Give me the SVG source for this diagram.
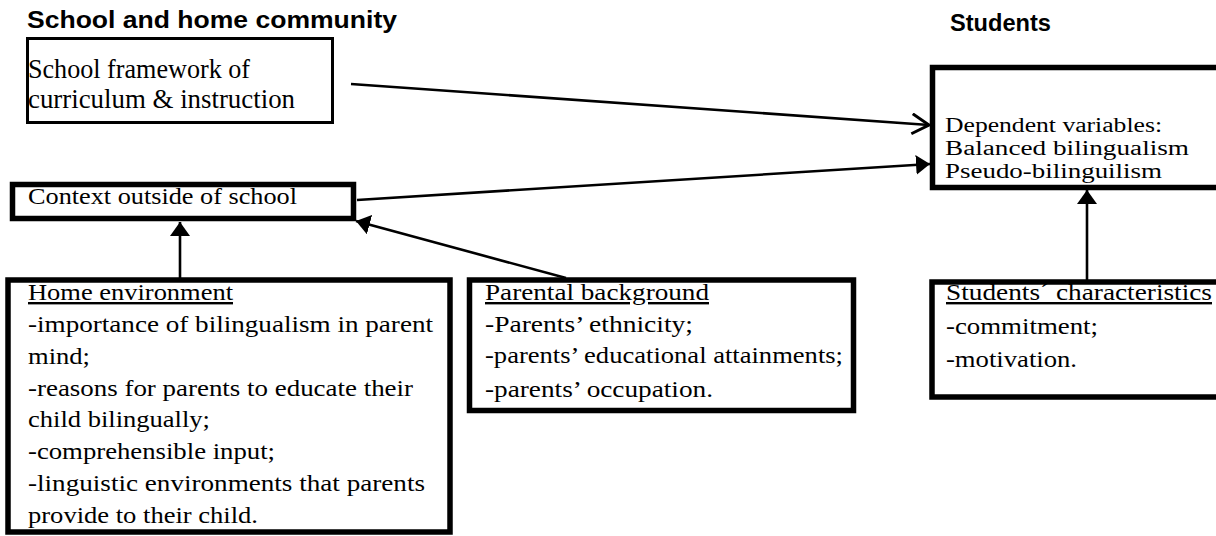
<svg xmlns="http://www.w3.org/2000/svg" width="1216" height="536" viewBox="0 0 1216 536">
<style>
.title{font-family:"Liberation Sans",Arial,sans-serif;font-weight:bold;font-size:23px;fill:#000}
.t{font-family:"Liberation Serif","Times New Roman",serif;font-size:24px;fill:#000}
.t3{font-family:"Liberation Serif","Times New Roman",serif;font-size:20.5px;fill:#000}
.t1{font-family:"Liberation Serif","Times New Roman",serif;font-size:26.5px;fill:#000}
.u{text-decoration:underline}
.box{fill:#fff;stroke:#000;stroke-width:5.5}
.thin{fill:#fff;stroke:#000;stroke-width:3}
.conn{fill:none;stroke:#000;stroke-width:2.6}
</style>
<defs>
<marker id="tri" markerUnits="userSpaceOnUse" markerWidth="16" markerHeight="20" refX="14" refY="10" orient="auto"><path d="M0,0 L14,10 L0,20 z" fill="#000"/></marker>
<marker id="open" markerUnits="userSpaceOnUse" markerWidth="22" markerHeight="26" refX="18" refY="11" orient="auto"><path d="M1,1 L18,11 L1,21" fill="none" stroke="#000" stroke-width="3"/></marker>
</defs>
<rect width="1216" height="536" fill="#fff"/>
<text class="title" x="27" y="28" textLength="370" lengthAdjust="spacingAndGlyphs">School and home community</text>
<text class="title" x="950" y="31" textLength="101" lengthAdjust="spacingAndGlyphs">Students</text>

<g id="school-framework">
<rect class="thin" x="27.5" y="38.5" width="305" height="84"/>
<text class="t1" x="28" y="78" textLength="222" lengthAdjust="spacingAndGlyphs">School framework of</text>
<text class="t1" x="28" y="108" textLength="267" lengthAdjust="spacingAndGlyphs">curriculum &amp; instruction</text>
</g>

<g id="context-outside">
<rect class="box" x="12.5" y="184.5" width="341" height="34"/>
<text class="t" x="28" y="204" textLength="269" lengthAdjust="spacingAndGlyphs">Context outside of school</text>
</g>

<g id="dependent-variables">
<rect class="box" x="932.5" y="67.5" width="300" height="120"/>
<text class="t3" x="945" y="132" textLength="217" lengthAdjust="spacingAndGlyphs">Dependent variables:</text>
<text class="t3" x="945" y="155" textLength="244" lengthAdjust="spacingAndGlyphs">Balanced bilingualism</text>
<text class="t3" x="945" y="178" textLength="217" lengthAdjust="spacingAndGlyphs">Pseudo-bilinguilism</text>
</g>

<g id="home-environment">
<rect class="box" x="8" y="280" width="442" height="252"/>
<text class="t u" x="28" y="300" textLength="205" lengthAdjust="spacingAndGlyphs">Home environment</text>
<text class="t" x="28" y="332" textLength="405" lengthAdjust="spacingAndGlyphs">-importance of bilingualism in parent</text>
<text class="t" x="28" y="364" textLength="62" lengthAdjust="spacingAndGlyphs">mind;</text>
<text class="t" x="28" y="396" textLength="385" lengthAdjust="spacingAndGlyphs">-reasons for parents to educate their</text>
<text class="t" x="28" y="427" textLength="182" lengthAdjust="spacingAndGlyphs">child bilingually;</text>
<text class="t" x="28" y="459" textLength="247" lengthAdjust="spacingAndGlyphs">-comprehensible input;</text>
<text class="t" x="28" y="491" textLength="397" lengthAdjust="spacingAndGlyphs">-linguistic environments that parents</text>
<text class="t" x="28" y="523" textLength="230" lengthAdjust="spacingAndGlyphs">provide to their child.</text>
</g>

<g id="parental-background">
<rect class="box" x="469.5" y="280" width="384" height="130.5"/>
<text class="t u" x="485" y="300" textLength="224" lengthAdjust="spacingAndGlyphs">Parental background</text>
<text class="t" x="485" y="332" textLength="208" lengthAdjust="spacingAndGlyphs">-Parents’ ethnicity;</text>
<text class="t" x="485" y="363" textLength="358" lengthAdjust="spacingAndGlyphs">-parents’ educational attainments;</text>
<text class="t" x="485" y="397" textLength="228" lengthAdjust="spacingAndGlyphs">-parents’ occupation.</text>
</g>

<g id="students-characteristics">
<rect class="box" x="932" y="282" width="300" height="115"/>
<text class="t u" x="946" y="300" textLength="266" lengthAdjust="spacingAndGlyphs">Students´ characteristics</text>
<text class="t" x="946" y="334" textLength="152" lengthAdjust="spacingAndGlyphs">-commitment;</text>
<text class="t" x="946" y="367" textLength="131" lengthAdjust="spacingAndGlyphs">-motivation.</text>
</g>

<g id="connectors">
<line class="conn" x1="351" y1="84" x2="929" y2="125" stroke-width="2.8" marker-end="url(#open)"/>
<line class="conn" x1="357" y1="200" x2="930" y2="164" marker-end="url(#tri)"/>
<line class="conn" x1="566" y1="278" x2="356" y2="221" marker-end="url(#tri)"/>
<line class="conn" x1="180" y1="278" x2="180" y2="222" marker-end="url(#tri)"/>
<line class="conn" x1="1087" y1="280" x2="1087" y2="190" marker-end="url(#tri)"/>
</g>
</svg>
